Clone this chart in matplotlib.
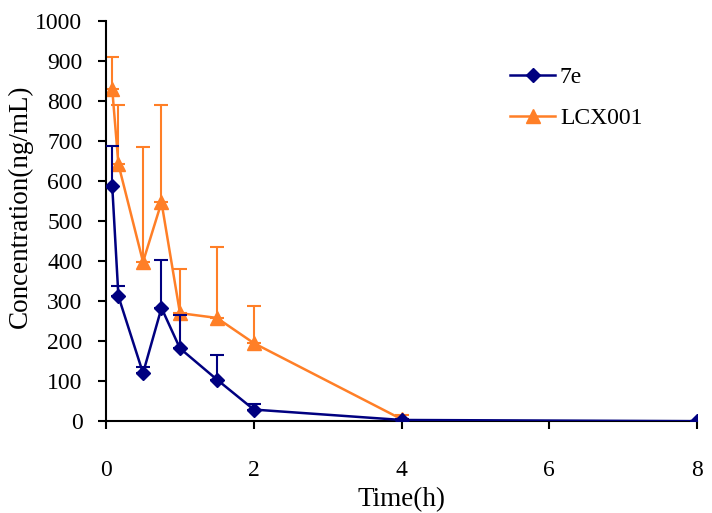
import matplotlib
matplotlib.use('Agg')
import matplotlib.pyplot as plt
from matplotlib.lines import Line2D
import numpy as np

plt.rcParams['font.family'] = ['Liberation Serif', 'DejaVu Serif']

#% Data
t_7e = [0.083, 0.167, 0.5, 0.75, 1, 1.5, 2, 4, 8]
c_7e = [588, 312, 120, 283, 182, 104, 29, 3, 0]
err_7e = [100, 26, 16, 121, 83, 61, 15, 2, 0]

t_lcx = [0.083, 0.167, 0.5, 0.75, 1, 1.5, 2, 4]
c_lcx = [830, 642, 398, 547, 270, 258, 195, 5]
err_lcx = [80, 148, 288, 243, 110, 178, 93, 10]

blue = '#000080'
orange = '#FF7F27'
fs = 17

fig = plt.figure(figsize=(7.12, 5.13), dpi=100)
ax = fig.add_axes([0.149, 0.179, 0.830, 0.780])

ax.errorbar(t_lcx, c_lcx, yerr=[np.zeros(len(err_lcx)), err_lcx], color=orange,
            marker='^', markersize=10, lw=1.8, elinewidth=1.5, capsize=5, capthick=1.5,
            zorder=2)
ax.errorbar(t_7e, c_7e, yerr=[np.zeros(len(err_7e)), err_7e], color=blue,
            marker='D', markersize=7, lw=1.8, elinewidth=1.5, capsize=5, capthick=1.5,
            zorder=3)

ax.set_xlim(0, 8)
ax.set_ylim(0, 1000)
ax.set_xticks([0, 2, 4, 6, 8])
ax.set_yticks(np.arange(0, 1001, 100))
ax.spines['top'].set_visible(False)
ax.spines['right'].set_visible(False)
for s in ['left', 'bottom']:
    ax.spines[s].set_linewidth(1.5)
ax.tick_params(axis='both', labelsize=fs, width=1.5, length=6)
ax.tick_params(axis='x', pad=22)
ax.tick_params(axis='y', pad=11)
ax.set_xlabel('Time(h)', fontsize=19.5, labelpad=4)
ax.set_ylabel('Concentration(ng/mL)', fontsize=19.5)
ax.yaxis.set_label_coords(-0.124, 0.5375)

handles = [Line2D([], [], color=blue, marker='D', markersize=7, lw=1.8),
           Line2D([], [], color=orange, marker='^', markersize=10, lw=1.8)]
ax.legend(handles, ['7e', 'LCX001'], loc='upper left', bbox_to_anchor=(0.648, 0.94),
          frameon=False, fontsize=fs, handlelength=1.9, labelspacing=0.85,
          handletextpad=0.2)

fig.savefig('out.png', dpi=100)
